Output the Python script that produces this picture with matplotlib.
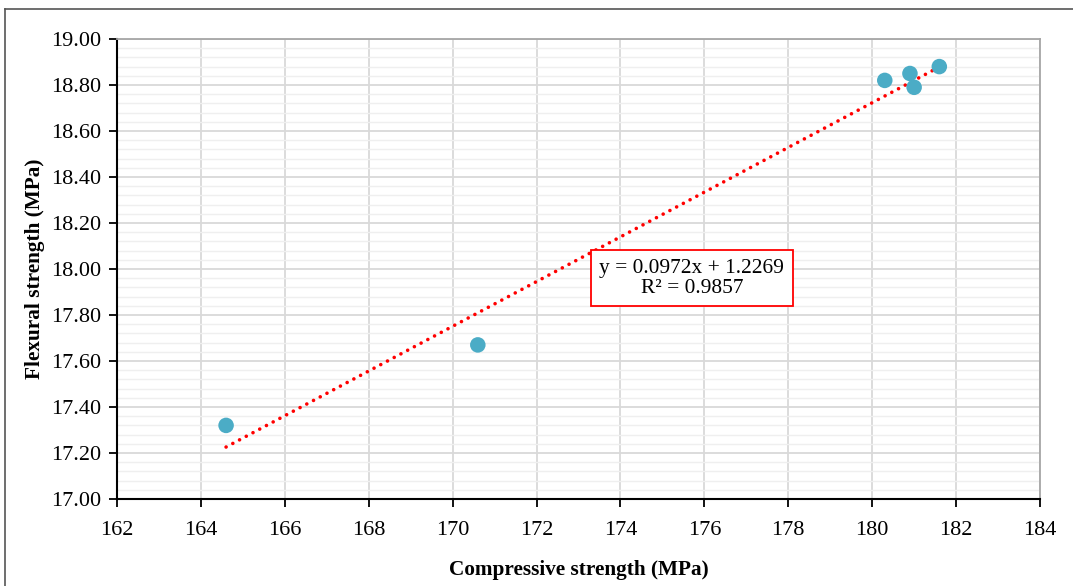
import numpy as np
import matplotlib.pyplot as plt
from matplotlib.lines import Line2D
from matplotlib.ticker import MultipleLocator, FormatStrFormatter

compressive = [164.6, 170.6, 180.3, 180.9, 181.0, 181.6]
flexural = [17.32, 17.67, 18.82, 18.85, 18.79, 18.88]
slope = 0.0972
intercept = 1.2269
r2 = 0.9857

plt.rcParams['font.family'] = ['Liberation Serif', 'DejaVu Serif']

fig = plt.figure(figsize=(10.73, 5.86), dpi=100)
ax = fig.add_axes([117 / 1073, 1 - 499 / 586, 923 / 1073, 460 / 586])

# outer frame (only top and left visible in the crop)
fig.add_artist(Line2D([5 / 1073, 5 / 1073], [0, 1 - 9 / 586], transform=fig.transFigure,
                      color='#555555', lw=1.2))
fig.add_artist(Line2D([5 / 1073, 1], [1 - 9 / 586, 1 - 9 / 586], transform=fig.transFigure,
                      color='#555555', lw=1.2))

ax.set_xlim(162, 184)
ax.set_ylim(17.0, 19.0)
ax.xaxis.set_major_locator(MultipleLocator(2))
ax.yaxis.set_major_locator(MultipleLocator(0.2))
ax.yaxis.set_minor_locator(MultipleLocator(0.04))
ax.yaxis.set_major_formatter(FormatStrFormatter('%.2f'))

ax.grid(True, which='major', color='#D9D9D9', lw=1.3, zorder=0)
ax.grid(True, which='minor', axis='y', color='#EFEFEF', lw=1.0, zorder=0)
ax.set_axisbelow(True)

for side in ['top', 'right']:
    ax.spines[side].set_color('#A6A6A6')
    ax.spines[side].set_linewidth(1.3)
for side in ['left', 'bottom']:
    ax.spines[side].set_color('black')
    ax.spines[side].set_linewidth(1.5)

ax.tick_params(which='major', direction='out', length=6, width=1.3, labelsize=16)
ax.tick_params(axis='x', which='major', pad=10)
ax.tick_params(axis='y', which='major', pad=5)
ax.tick_params(which='minor', length=0)

xs = np.array([min(compressive), max(compressive)])
ax.plot(xs, slope * xs + intercept, color='#FF0000', lw=2.6, linestyle=(0, (0.01, 2.1)),
        dash_capstyle='round', zorder=2)
ax.scatter(compressive, flexural, s=125, color='#4BACC6', edgecolors='none', zorder=3)

ax.text(175.7, 17.96, f'y = {slope}x + {intercept}\nR² = {r2}', ha='center', va='center',
        fontsize=15.4, linespacing=1.05,
        bbox=dict(boxstyle='square,pad=0.4', facecolor='white', edgecolor='#FF0000', lw=1.3),
        zorder=4)

ax.set_xlabel('Compressive strength (MPa)', fontsize=15.3, fontweight='bold', labelpad=14)
ax.set_ylabel('Flexural strength (MPa)', fontsize=15.3, fontweight='bold', labelpad=5)

fig.savefig('out.png', dpi=100)
